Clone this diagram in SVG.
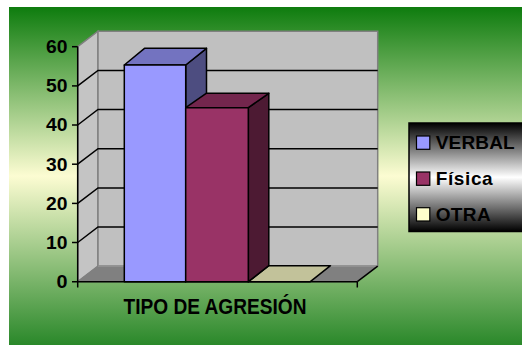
<svg xmlns="http://www.w3.org/2000/svg" width="522" height="345" viewBox="0 0 522 345">
<defs>
<linearGradient id="bg" x1="0" y1="0" x2="0" y2="1">
<stop offset="0" stop-color="#0e7c0e"/>
<stop offset="0.5" stop-color="#fcfcd2"/>
<stop offset="1" stop-color="#2a882a"/>
</linearGradient>
<linearGradient id="lg" x1="0" y1="0" x2="0" y2="1">
<stop offset="0" stop-color="#000"/>
<stop offset="0.5" stop-color="#fff"/>
<stop offset="1" stop-color="#000"/>
</linearGradient>
<style>
.wall{fill:#c0c0c0;stroke:#808080;stroke-width:1.5}
.lwall{fill:#c4c4c4;stroke:#808080;stroke-width:1.5}
.floor{fill:#808080;stroke:#808080;stroke-width:1}
.grid{stroke:#000;stroke-width:1.5;fill:none}
.bar{stroke:#000;stroke-width:1.5;stroke-linejoin:round}
.ax{font-family:"Liberation Sans",Arial,sans-serif;font-weight:bold;font-size:18px;fill:#000;text-anchor:end}
.lt{font-family:"Liberation Sans",Arial,sans-serif;font-weight:bold;font-size:19px;fill:#000}
</style>
</defs>
<rect x="0" y="0" width="522" height="345" fill="#fff"/>
<rect x="9" y="7" width="513" height="338" fill="url(#bg)"/>

<g id="walls">
<polygon class="lwall" points="77.7,46.7 98,31.2 98,266.2 77.7,281.7"/>
<polygon class="wall" points="98,31.2 377.7,31.2 377.7,266.2 98,266.2"/>
<polygon class="floor" points="77.7,281.7 98,266.2 377.7,266.2 357.3,281.7"/>
<line x1="98" y1="266.2" x2="377.7" y2="266.2" stroke="#909090" stroke-width="1.5"/>
</g>

<g id="gridlines" class="grid">
<polyline points="77.7,242.5 98,227 377.7,227"/>
<polyline points="77.7,203.4 98,187.9 377.7,187.9"/>
<polyline points="77.7,164.2 98,148.7 377.7,148.7"/>
<polyline points="77.7,125 98,109.5 377.7,109.5"/>
<polyline points="77.7,85.9 98,70.4 377.7,70.4"/>
</g>

<g id="axes" class="grid">
<line x1="77.7" y1="46.7" x2="77.7" y2="287.5"/>
<line x1="72" y1="281.7" x2="357.3" y2="281.7"/>
<line x1="357.3" y1="281.7" x2="377.7" y2="266.2"/>
<line x1="357.3" y1="281.7" x2="357.3" y2="287.5"/>
<line x1="72" y1="46.7" x2="77.7" y2="46.7"/>
<line x1="72" y1="85.9" x2="77.7" y2="85.9"/>
<line x1="72" y1="125" x2="77.7" y2="125"/>
<line x1="72" y1="164.2" x2="77.7" y2="164.2"/>
<line x1="72" y1="203.4" x2="77.7" y2="203.4"/>
<line x1="72" y1="242.5" x2="77.7" y2="242.5"/>
</g>

<g id="ylabels">
<text class="ax" x="67.5" y="53" textLength="21.5" lengthAdjust="spacingAndGlyphs">60</text>
<text class="ax" x="67.5" y="92.2" textLength="21.5" lengthAdjust="spacingAndGlyphs">50</text>
<text class="ax" x="67.5" y="131.3" textLength="21.5" lengthAdjust="spacingAndGlyphs">40</text>
<text class="ax" x="67.5" y="170.5" textLength="21.5" lengthAdjust="spacingAndGlyphs">30</text>
<text class="ax" x="67.5" y="209.7" textLength="21.5" lengthAdjust="spacingAndGlyphs">20</text>
<text class="ax" x="67.5" y="248.8" textLength="21.5" lengthAdjust="spacingAndGlyphs">10</text>
<text class="ax" x="67.5" y="288" textLength="11" lengthAdjust="spacingAndGlyphs">0</text>
</g>

<g id="bar-otra">
<polygon class="bar" fill="#c2c29a" points="248.3,281.7 268.8,265.7 330.5,265.7 310.3,281.7"/>
</g>

<g id="bar-verbal">
<polygon class="bar" fill="#4d4d80" points="185.7,65 206.5,48.3 206.5,265.7 185.7,281.7"/>
<polygon class="bar" fill="#7373c0" points="124.3,65 144.5,48.3 206.5,48.3 185.7,65"/>
<rect class="bar" fill="#9999ff" x="124.3" y="65" width="61.4" height="216.7"/>
</g>

<g id="bar-fisica">
<polygon class="bar" fill="#4d1a33" points="248.3,107.7 268.8,93.3 268.8,265.7 248.3,281.7"/>
<polygon class="bar" fill="#73264d" points="185.7,107.7 206.2,93.3 268.8,93.3 248.3,107.7"/>
<rect class="bar" fill="#993366" x="185.7" y="107.7" width="62.6" height="174"/>
</g>

<g id="xlabel">
<text x="215" y="313.5" text-anchor="middle" font-family="'Liberation Sans',Arial,sans-serif" font-weight="bold" font-size="21.5" textLength="183" lengthAdjust="spacingAndGlyphs" fill="#000">TIPO DE AGRESIÓN</text>
</g>

<g id="legend">
<rect x="409" y="123" width="116" height="108.5" fill="url(#lg)" stroke="#000" stroke-width="1.5"/>
<rect x="416.5" y="136" width="13.3" height="13.3" fill="#9999ff" stroke="#000" stroke-width="1.2"/>
<text class="lt" x="435.7" y="149.3" textLength="79" lengthAdjust="spacing">VERBAL</text>
<rect x="416.5" y="172" width="13.3" height="13.3" fill="#993366" stroke="#000" stroke-width="1.2"/>
<text class="lt" x="435.7" y="185.3" textLength="57" lengthAdjust="spacing">Física</text>
<rect x="416.5" y="207.7" width="13.3" height="13.3" fill="#ffffcc" stroke="#000" stroke-width="1.2"/>
<text class="lt" x="435.7" y="220.8" textLength="55" lengthAdjust="spacing">OTRA</text>
</g>
</svg>
